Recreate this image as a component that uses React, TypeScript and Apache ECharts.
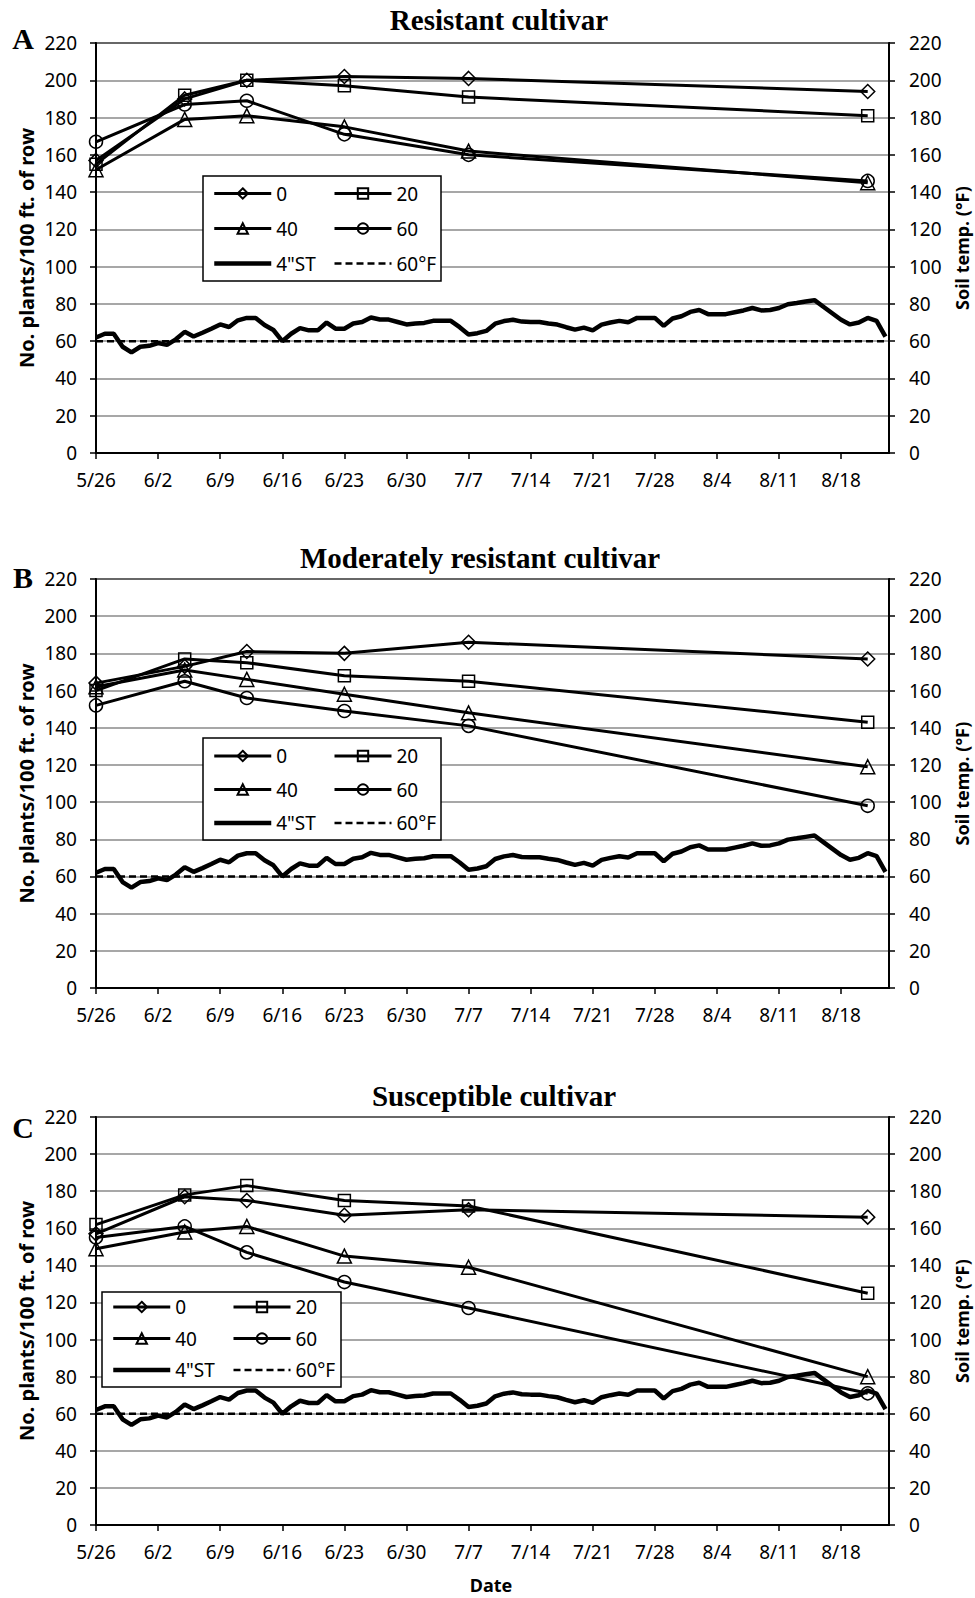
import React, { useEffect, useRef } from "react";
import * as echarts from "echarts";

// ---------- data ----------
const xTickLabels = ["5/26", "6/2", "6/9", "6/16", "6/23", "6/30", "7/7", "7/14", "7/21", "7/28", "8/4", "8/11", "8/18"];
const obsDates = ["5/26", "6/5", "6/12", "6/23", "7/7", "8/21"];
const seriesNames = ["0", "20", "40", "60"];

const resistant0 = [157, 190, 200, 202, 201, 194];
const resistant20 = [155, 192, 200, 197, 191, 181];
const resistant40 = [152, 179, 181, 175, 162, 145];
const resistant60 = [167, 187, 189, 171, 160, 146];

const moderate0 = [164, 173, 181, 180, 186, 177];
const moderate20 = [160, 177, 175, 168, 165, 143];
const moderate40 = [162, 171, 166, 158, 148, 119];
const moderate60 = [152, 165, 156, 149, 141, 98];

const susceptible0 = [157, 177, 175, 167, 170, 166];
const susceptible20 = [162, 178, 183, 175, 172, 125];
const susceptible40 = [149, 158, 161, 145, 139, 80];
const susceptible60 = [155, 161, 147, 131, 117, 71];

// daily 4" soil temperature (°F) from 5/26
const soilTemp = [
  62, 64, 64, 57, 54, 57, 57.5, 59, 58, 61,
  65, 62.5, 64.5, 66.7, 69, 67.6, 71.2, 72.5, 72.5, 68.7,
  66, 60, 64, 67, 65.8, 65.8, 70, 66.7, 66.7, 69.5,
  70.3, 72.7, 71.6, 71.6, 70.3, 69, 69.5, 69.8, 70.9, 70.9,
  70.9, 67.5, 63.6, 64.3, 65.5, 69.4, 70.8, 71.5, 70.5, 70.3,
  70.3, 69.5, 68.9, 67.5, 66.2, 67.3, 65.8, 68.9, 70, 70.9,
  70.2, 72.5, 72.5, 72.5, 68.2, 72.2, 73.4, 75.7, 76.7, 74.5,
  74.5, 74.5, 75.5, 76.5, 77.8, 76.5, 76.7, 77.8, 79.8, 80.5,
  81.3, 82, 78.5, 75, 71.5, 69, 70, 72.5, 70.9, 62.5,
];
const thresholdTemp = 60;

const panelTitles = ["Resistant cultivar", "Moderately resistant cultivar", "Susceptible cultivar"];
const panelLetters = ["A", "B", "C"];
const panelData = [
  [resistant0, resistant20, resistant40, resistant60],
  [moderate0, moderate20, moderate40, moderate60],
  [susceptible0, susceptible20, susceptible40, susceptible60],
];

// ---------- layout ----------
const X_MAX = 89.4;
const GRID_LEFT = 96;
const GRID_WIDTH = 793;
const gridTops = [43, 579, 1117];
const gridHeights = [410, 409, 408];
const titleCenters = [[499, 20], [480, 558], [494, 1096]];
const letterPos = [[23, 38], [23, 577], [23, 1127]];
// legend: [boxX, boxY, boxW, boxH, row1CenterY, rowSpacing]
const legendBoxes = [
  [203, 176, 238, 105, 193.5, 35],
  [203, 738, 238, 102, 756, 33.5],
  [102, 1292, 239, 95, 1307, 31.5],
];

const FONT = "'Noto Sans', 'Open Sans', sans-serif";
const SERIF = "'Liberation Serif', 'DejaVu Serif', serif";
const symbols = ["diamond", "rect", "triangle", "circle"];
const symbolSizes = [14, 12, 14, 13];
const SERIES_W = 3;
const SOIL_W = 4.5;
const DASH_W = 2.5;
const DASH: number[] = [7, 4];

function dayOf(s: string): number {
  const [m, d] = s.split("/").map(Number);
  return Math.round((Date.UTC(2001, m - 1, d) - Date.UTC(2001, 4, 26)) / 86400000);
}

function buildOption() {
  const grid: any[] = [];
  const xAxis: any[] = [];
  const yAxis: any[] = [];
  const series: any[] = [];
  const legend: any[] = [];
  const graphic: any[] = [];
  const obsDays = obsDates.map(dayOf);

  const axisLabelStyle = { color: "#000", fontFamily: FONT, fontSize: 19 };

  for (let p = 0; p < 3; p++) {
    grid.push({
      left: GRID_LEFT,
      width: GRID_WIDTH,
      top: gridTops[p],
      height: gridHeights[p],
      show: true,
      borderColor: "#000",
      borderWidth: 2,
      backgroundColor: "transparent",
    });
    xAxis.push({
      type: "value",
      gridIndex: p,
      min: 0,
      max: X_MAX,
      interval: 7,
      axisLine: { show: true, lineStyle: { color: "#000", width: 2 } },
      axisTick: { show: true, length: 6, lineStyle: { color: "#000", width: 1.5 } },
      splitLine: { show: false },
      axisLabel: {
        ...axisLabelStyle,
        margin: 17,
        showMaxLabel: false,
        formatter: (v: number) => (Math.abs(v % 7) < 1e-6 ? xTickLabels[Math.round(v / 7)] ?? "" : ""),
      },
    });
    yAxis.push({
      type: "value",
      gridIndex: p,
      position: "left",
      min: 0,
      max: 220,
      interval: 20,
      axisLine: { show: true, lineStyle: { color: "#000", width: 2 } },
      axisTick: { show: true, length: 6, lineStyle: { color: "#000", width: 1.5 } },
      splitLine: { show: true, lineStyle: { color: "#8a8a8a", width: 1.5 } },
      axisLabel: { ...axisLabelStyle, margin: 19 },
    });
    yAxis.push({
      type: "value",
      gridIndex: p,
      position: "right",
      min: 0,
      max: 220,
      interval: 20,
      axisLine: { show: true, lineStyle: { color: "#000", width: 2 } },
      axisTick: { show: true, length: 6, lineStyle: { color: "#000", width: 1.5 } },
      splitLine: { show: false },
      axisLabel: { ...axisLabelStyle, margin: 20 },
    });

    // soil temperature & threshold on right axis
    series.push({
      name: '4"ST',
      type: "line",
      xAxisIndex: p,
      yAxisIndex: 2 * p + 1,
      data: soilTemp.map((v, i) => [i, v]),
      symbol: "none",
      lineStyle: { color: "#000", width: SOIL_W },
      itemStyle: { color: "#000" },
      silent: true,
    });
    series.push({
      name: "60°F",
      type: "line",
      xAxisIndex: p,
      yAxisIndex: 2 * p + 1,
      data: [[0, thresholdTemp], [X_MAX, thresholdTemp]],
      symbol: "none",
      lineStyle: { color: "#000", width: DASH_W, type: DASH },
      itemStyle: { color: "#000" },
      silent: true,
    });

    panelData[p].forEach((vals, k) => {
      series.push({
        name: seriesNames[k],
        type: "line",
        xAxisIndex: p,
        yAxisIndex: 2 * p,
        data: obsDays.map((d, i) => [d, vals[i]]),
        symbol: symbols[k],
        symbolSize: symbolSizes[k],
        showAllSymbol: true,
        lineStyle: { color: "#000", width: SERIES_W },
        itemStyle: { color: "rgba(255,255,255,0)", borderColor: "#000", borderWidth: 1.5 },
        silent: true,
        z: 3,
      });
    });

    const [bx, by, bw, bh, r1, rs] = legendBoxes[p];
    const legCommon = {
      orient: "vertical",
      top: r1 - 9.5,
      itemWidth: 57,
      itemHeight: 13,
      itemGap: rs - 19,
      padding: 0,
      textStyle: { color: "#000", fontFamily: FONT, fontSize: 19, lineHeight: 19 },
      selectedMode: false,
    };
    const noSymbol = { opacity: 0, borderWidth: 0, color: "rgba(0,0,0,0)", borderColor: "rgba(0,0,0,0)" };
    const markerLine = { color: "#000", width: SERIES_W };
    legend.push({
      ...legCommon,
      left: bx + 9,
      data: [
        { name: "0", lineStyle: markerLine },
        { name: "40", lineStyle: markerLine },
        { name: '4"ST', itemStyle: noSymbol, lineStyle: { color: "#000", width: SOIL_W } },
      ],
    });
    legend.push({
      ...legCommon,
      left: bx + 130,
      data: [
        { name: "20", lineStyle: markerLine },
        { name: "60", lineStyle: markerLine },
        { name: "60°F", itemStyle: noSymbol, lineStyle: { color: "#000", width: DASH_W, type: DASH } },
      ],
    });

    graphic.push({
      type: "rect",
      shape: { x: bx, y: by, width: bw, height: bh },
      style: { fill: "#fff", stroke: "#000", lineWidth: 1.5 },
      z: 50,
    });
    graphic.push({
      type: "text",
      x: titleCenters[p][0],
      y: titleCenters[p][1],
      style: {
        text: panelTitles[p],
        fontFamily: SERIF,
        fontWeight: "bold",
        fontSize: 29,
        fill: "#000",
        textAlign: "center",
        textVerticalAlign: "middle",
      },
    });
    graphic.push({
      type: "text",
      x: letterPos[p][0],
      y: letterPos[p][1],
      style: {
        text: panelLetters[p],
        fontFamily: SERIF,
        fontWeight: "bold",
        fontSize: 30,
        fill: "#000",
        textAlign: "center",
        textVerticalAlign: "middle",
      },
    });
    const cy = gridTops[p] + gridHeights[p] / 2;
    graphic.push({
      type: "text",
      x: 26,
      y: cy,
      rotation: Math.PI / 2,
      style: {
        text: "No. plants/100 ft. of row",
        fontFamily: FONT,
        fontWeight: "bold",
        fontSize: 20,
        fill: "#000",
        textAlign: "center",
        textVerticalAlign: "middle",
      },
    });
    graphic.push({
      type: "text",
      x: 962,
      y: cy,
      rotation: Math.PI / 2,
      style: {
        text: "Soil temp. (°F)",
        fontFamily: FONT,
        fontWeight: "bold",
        fontSize: 18,
        fill: "#000",
        textAlign: "center",
        textVerticalAlign: "middle",
      },
    });
  }

  graphic.push({
    type: "text",
    x: 491,
    y: 1585,
    style: {
      text: "Date",
      fontFamily: FONT,
      fontWeight: "bold",
      fontSize: 18,
      fill: "#000",
      textAlign: "center",
      textVerticalAlign: "middle",
    },
  });

  return {
    animation: false,
    backgroundColor: "#fff",
    grid,
    xAxis,
    yAxis,
    series,
    legend: legend.map((l) => ({ ...l, z: 60 })),
    graphic,
  };
}

export default function App() {
  const ref = useRef<HTMLDivElement | null>(null);
  useEffect(() => {
    if (!ref.current) return;
    const chart = echarts.init(ref.current, undefined, { renderer: "svg" });
    chart.setOption(buildOption() as any);
    return () => chart.dispose();
  }, []);
  return (
    <div
      ref={ref}
      style={{ position: "absolute", left: 0, top: 0, width: 975, height: 1598, background: "#fff" }}
    />
  );
}
